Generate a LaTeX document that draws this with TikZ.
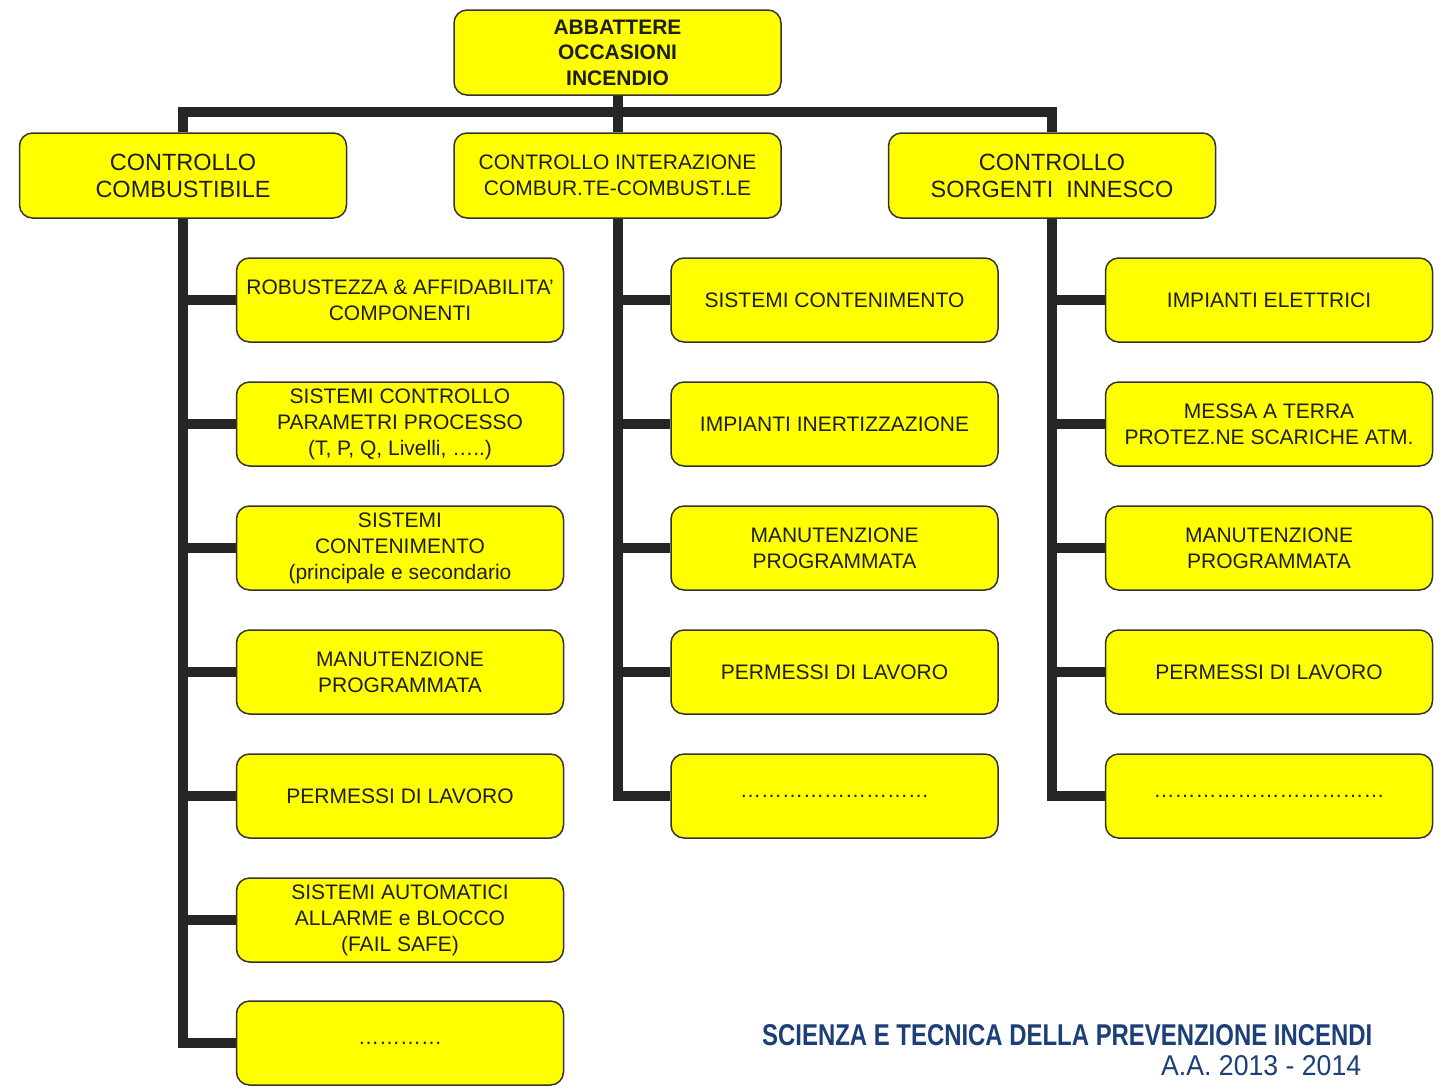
\documentclass[tikz,border=0pt]{standalone}
\usepackage{fontspec}
\setmainfont{Liberation Sans}
\usepackage{graphicx}
\usetikzlibrary{backgrounds}
\definecolor{boxfill}{HTML}{FFFF00}
\definecolor{boxline}{HTML}{333333}
\definecolor{boxtext}{HTML}{1E1E1E}
\definecolor{connc}{HTML}{262626}
\definecolor{footc}{HTML}{1C3F78}
\begin{document}
\begin{tikzpicture}[x=1pt,y=-1pt,
  box/.style={draw=boxline, fill=boxfill, line width=1.5pt, rounded corners=13pt,
    minimum width=327pt, minimum height=84pt, inner sep=0pt, align=center,
    text=boxtext, font=\fontsize{21}{26}\selectfont},
  topbox/.style={box, minimum height=85pt, font=\fontsize{21}{25.5}\selectfont\bfseries},
  lvbox/.style={box, minimum height=85pt, font=\fontsize{23.5}{27}\selectfont},
  conn/.style={draw=connc, line width=10pt, line join=miter}]
\useasboundingbox (0,0) rectangle (1441,1088);

\node[topbox] (top) at (617.5,52.5) {ABBATTERE\\OCCASIONI\\INCENDIO};

\node[lvbox] (c1) at (183,175.5) {CONTROLLO\\COMBUSTIBILE};
\node[box, minimum height=85pt] (c2) at (617.5,175.5) {CONTROLLO INTERAZIONE\\COMBUR.TE-COMBUST.LE};
\node[lvbox] (c3) at (1052,175.5) {CONTROLLO\\SORGENTI\ \ INNESCO};

% column 1
\node[box] (a1) at (400,300) {ROBUSTEZZA \& AFFIDABILITA’\\COMPONENTI};
\node[box] (a2) at (400,424) {SISTEMI CONTROLLO\\PARAMETRI PROCESSO\\(T, P, Q, Livelli, …..)};
\node[box] (a3) at (400,548) {SISTEMI\\CONTENIMENTO\\(principale e secondario};
\node[box] (a4) at (400,672) {MANUTENZIONE\\PROGRAMMATA};
\node[box] (a5) at (400,796) {PERMESSI DI LAVORO};
\node[box] (a6) at (400,920) {SISTEMI AUTOMATICI\\ALLARME e BLOCCO\\(FAIL SAFE)};
\node[box] (a7) at (400,1043) {…………};

% column 2
\node[box] (b1) at (834.5,300) {SISTEMI CONTENIMENTO};
\node[box] (b2) at (834.5,424) {IMPIANTI INERTIZZAZIONE};
\node[box] (b3) at (834.5,548) {MANUTENZIONE\\PROGRAMMATA};
\node[box] (b4) at (834.5,672) {PERMESSI DI LAVORO};
\node[box] (b5) at (834.5,796) {………………………};

% column 3
\node[box] (d1) at (1269,300) {IMPIANTI ELETTRICI};
\node[box] (d2) at (1269,424) {MESSA A TERRA\\PROTEZ.NE SCARICHE ATM.};
\node[box] (d3) at (1269,548) {MANUTENZIONE\\PROGRAMMATA};
\node[box] (d4) at (1269,672) {PERMESSI DI LAVORO};
\node[box] (d5) at (1269,796) {……………………………};

\begin{pgfonlayer}{background}
\draw[conn] (top.south) -- (c2.north);
\draw[conn] (c1.north) -- ++(0,-20) -| (c3.north);
\foreach \n in {a1,a2,a3,a4,a5,a6,a7} \draw[conn] (c1.south) |- (\n.west);
\foreach \n in {b1,b2,b3,b4,b5} \draw[conn] (c2.south) |- (\n.west);
\foreach \n in {d1,d2,d3,d4,d5} \draw[conn] (c3.south) |- (\n.west);
\end{pgfonlayer}

\node[anchor=base west, inner sep=0pt, text=footc] (f1) at (762,1045)
  {\resizebox{610pt}{21pt}{\bfseries SCIENZA E TECNICA DELLA PREVENZIONE INCENDI}};
\node[anchor=base west, inner sep=0pt, text=footc] (f2) at (1161,1075)
  {\resizebox{200pt}{20pt}{A.A. 2013 - 2014}};
\end{tikzpicture}
\end{document}
